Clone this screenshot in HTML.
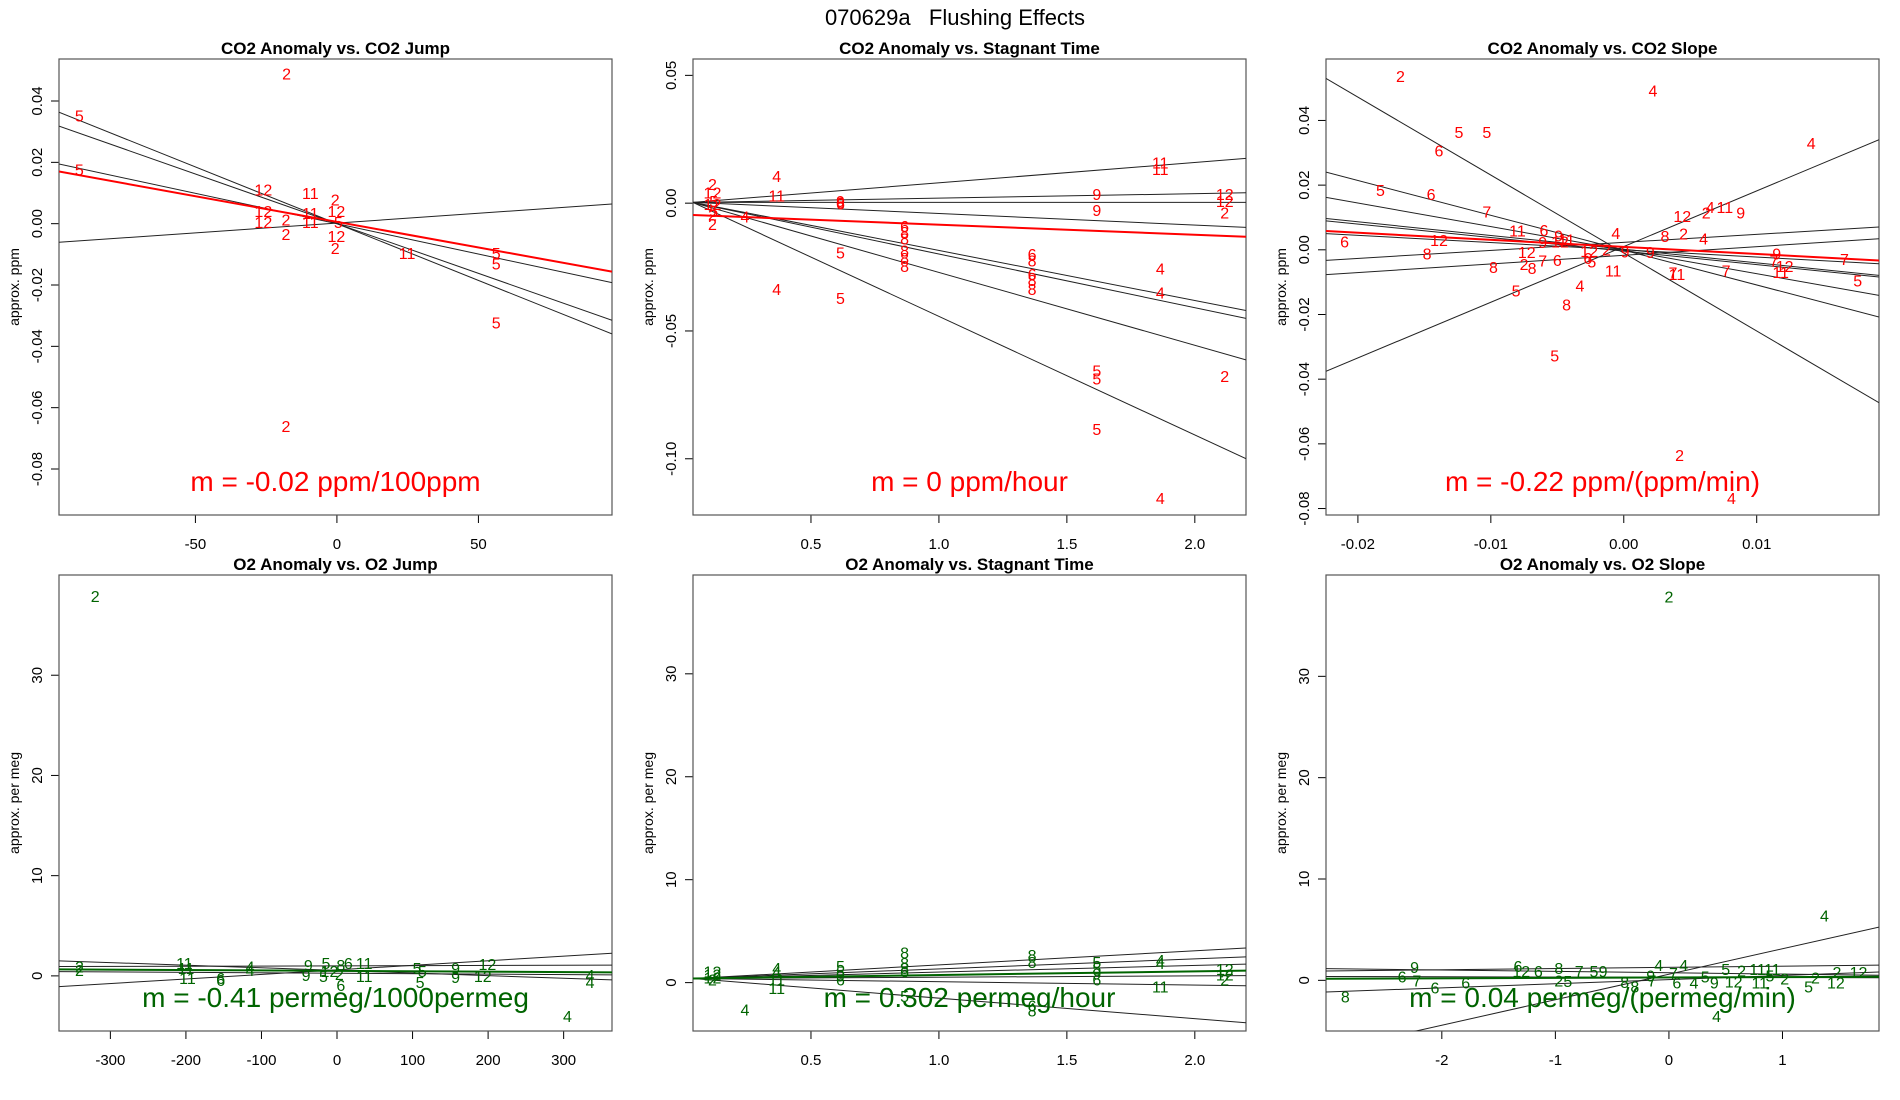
<!DOCTYPE html>
<html><head><meta charset="utf-8"><title>070629a Flushing Effects</title>
<style>
html,body{margin:0;padding:0;background:#fff;}
svg{display:block;font-family:"Liberation Sans",sans-serif;}
</style></head>
<body>
<svg id="chart" width="1900" height="1100" viewBox="0 0 1900 1100" xmlns="http://www.w3.org/2000/svg">
<rect x="0" y="0" width="1900" height="1100" fill="#fff"/>
<text x="955" y="25" font-size="22" text-anchor="middle" fill="#000">070629a&#160;&#160;&#160;Flushing Effects</text>
</svg>
<script>
// ---------- Panel 1: CO2 Anomaly vs CO2 Jump ----------
const p1Labels = ["2","5","5","12","11","2","12","12","2","2","11","11","12","5","12","2","11","5","5","5","2"];
const p1X = [-17.8,-91,-91,-26,-9.4,-0.6,-26,-26,-18,-18,-9.4,-9.4,-0.2,0.5,-0.2,-0.6,24.8,56.3,56.3,56.3,-18];
const p1Y = [0.049,0.0353,0.0177,0.0111,0.010,0.0079,0.0041,0.0006,0.0014,-0.0033,0.0035,0.0006,0.0041,0.0006,-0.0041,-0.0079,-0.0095,-0.0095,-0.013,-0.0323,-0.066];
const p1Slopes = [-0.00037,-0.000324,-0.000198,0.0000638];
const p1Intercepts = [0,0,0,0.0002];
const p1Fit = [-0.000167, 0.0006];
const p1XTicks = [-50,0,50];
const p1XTickLabels = ["-50","0","50"];
const p1YTicks = [0.04,0.02,0,-0.02,-0.04,-0.06,-0.08];
const p1YTickLabels = ["0.04","0.02","0.00","-0.02","-0.04","-0.06","-0.08"];

// ---------- Panel 2: CO2 Anomaly vs Stagnant Time ----------
const p2Labels = ["2","12","5","12","5","2","2","4","11","4","4","9","6","6","5","5","6","8","8","8","8","8","6","8","6","8","8","9","9","5","5","5","11","11","4","4","4","12","12","2","2"];
const p2X = [0.115,0.115,0.12,0.115,0.12,0.115,0.115,0.366,0.366,0.242,0.366,0.615,0.615,0.615,0.615,0.615,0.866,0.866,0.866,0.866,0.866,0.866,1.364,1.364,1.364,1.364,1.364,1.617,1.617,1.617,1.617,1.617,1.865,1.865,1.865,1.865,1.865,2.117,2.117,2.117,2.117];
const p2Y = [0.0074,0.0042,0.0009,-0.0003,-0.003,-0.0044,-0.0082,0.0107,0.0029,-0.0053,-0.0336,0.0009,0.0003,-0.0002,-0.0193,-0.0372,-0.0089,-0.0113,-0.0139,-0.0185,-0.0215,-0.0245,-0.0199,-0.0225,-0.0277,-0.0300,-0.0336,0.0035,-0.0026,-0.0655,-0.0685,-0.0883,0.0159,0.0133,-0.0255,-0.0349,-0.1154,0.0035,0.0009,-0.0036,-0.0677];
const p2Slopes = [0.00796,0.00176,0,-0.00453,-0.0196,-0.021,-0.0285,-0.0464];
const p2Intercepts = [0,0.0002,0.0003,0.0005,0.0011,0.0011,0.0014,0.0021];
const p2Fit = [-0.00393, -0.0045];
const p2XTicks = [0.5,1.0,1.5,2.0];
const p2XTickLabels = ["0.5","1.0","1.5","2.0"];
const p2YTicks = [0.05,0,-0.05,-0.10];
const p2YTickLabels = ["0.05","0.00","-0.05","-0.10"];

// ---------- Panel 3: CO2 Anomaly vs CO2 Slope ----------
const p3Labels = ["2","4","5","5","6","4","5","6","7","6","12","8","8","11","6","9","12","2","8","7","6","9","12","11","12","6","5","2","4","9","11","4","8","5","5","2","4","9","8","2","4","12","2","4","11","9","7","11","7","9","7","12","11","7","5"];
const p3X = [-0.0168,0.0022,-0.0124,-0.0103,-0.0139,0.0141,-0.0183,-0.0145,-0.0103,-0.021,-0.0139,-0.0148,-0.0098,-0.008,-0.006,-0.0061,-0.0073,-0.0075,-0.0069,-0.0061,-0.005,-0.0049,-0.0048,-0.0043,-0.0026,-0.0027,-0.0024,-0.0013,-0.0006,0.0001,-0.0008,-0.0033,-0.0043,-0.0081,-0.0052,0.0042,0.0081,0.002,0.0031,0.0045,0.006,0.0044,0.0062,0.0065,0.0076,0.0088,0.0037,0.004,0.0077,0.0115,0.0113,0.0121,0.0118,0.0166,0.0176];
const p3Y = [0.0538,0.0492,0.0365,0.0364,0.0307,0.033,0.0185,0.0173,0.0118,0.0026,0.0031,-0.0012,-0.0053,0.006,0.0062,0.0024,-0.0007,-0.0044,-0.0056,-0.0033,-0.0031,0.0044,0.0026,0.0032,-0.0003,-0.0026,-0.0036,0.0001,0.0052,-0.0005,-0.0064,-0.011,-0.0169,-0.0126,-0.0327,-0.0635,-0.0767,-0.0007,0.0043,0.0051,0.0035,0.0104,0.0116,0.0132,0.0132,0.0115,-0.007,-0.0075,-0.0064,-0.0012,-0.0033,-0.005,-0.0069,-0.0028,-0.0095];
const p3Slopes = [-2.411,-1.077,-0.728,-0.423,-0.418,-0.224,0.248,0.267,1.721];
const p3Intercepts = [-0.001,-0.0001,-0.0001,0.0002,-0.0004,0,0.0023,-0.0017,0.001];
const p3Fit = [-0.219, 0.0009];
const p3XTicks = [-0.02,-0.01,0,0.01];
const p3XTickLabels = ["-0.02","-0.01","0.00","0.01"];
const p3YTicks = [0.04,0.02,0,-0.02,-0.04,-0.06,-0.08];
const p3YTickLabels = ["0.04","0.02","0.00","-0.02","-0.04","-0.06","-0.08"];

// ---------- Panel 4: O2 Anomaly vs O2 Jump ----------
const p4Labels = ["2","2","11","11","11","6","6","4","4","9","9","5","5","12","2","6","8","6","11","11","5","5","5","9","9","12","12","4","4","4","2"];
const p4X = [-341,-341,-202,-200,-198,-154,-154,-115,-115,-38,-41,-14.6,-18,-10,3,5,5,15,36,36,106,113,110,157,157,199,193,335,335,305,-320];
const p4Y = [0.93,0.6,1.27,0.77,-0.2,-0.2,-0.4,0.93,0.6,1.1,0.1,1.27,0.0,0.5,0.2,-0.9,1.1,1.27,1.27,0,0.77,0.5,-0.6,0.77,-0.1,1.2,0.0,0.1,-0.6,-4.0,37.9];
const p4Slopes = [-0.0026,0.00455,0.00019,-0.00045];
const p4Intercepts = [0.545,0.60,1.0,0.26];
const p4Fit = [-0.00041, 0.5];
const p4XTicks = [-300,-200,-100,0,100,200,300];
const p4XTickLabels = ["-300","-200","-100","0","100","200","300"];
const p4YTicks = [0,10,20,30];
const p4YTickLabels = ["0","10","20","30"];

// ---------- Panel 5: O2 Anomaly vs Stagnant Time ----------
const p5Labels = ["12","12","12","2","4","4","11","11","4","5","5","9","6","8","8","8","6","5","8","8","6","8","5","5","9","6","4","4","11","12","12","2"];
const p5X = [0.115,0.115,0.115,0.115,0.366,0.366,0.366,0.366,0.242,0.615,0.615,0.615,0.615,0.866,0.866,0.866,0.866,0.866,1.364,1.364,1.364,1.364,1.617,1.617,1.617,1.617,1.865,1.865,1.865,2.117,2.117,2.117];
const p5Y = [1.1,0.8,0.5,0.28,1.4,1.1,0.28,-0.5,-2.6,1.6,1.1,0.68,0.28,2.95,1.9,1.4,1.1,-1.3,2.7,2.0,-2.2,-2.7,2.0,1.4,0.9,0.28,2.2,1.9,-0.36,1.3,0.8,0.28];
const p5Slopes = [1.374,0.972,0.648,0.13,-0.324,-1.99];
const p5Intercepts = [0.346,0.362,0.375,0.395,0.413,0.478];
const p5Fit = [0.352, 0.386];
const p5XTicks = [0.5,1.0,1.5,2.0];
const p5XTickLabels = ["0.5","1.0","1.5","2.0"];
const p5YTicks = [0,10,20,30];
const p5YTickLabels = ["0","10","20","30"];

// ---------- Panel 6: O2 Anomaly vs O2 Slope ----------
const p6Labels = ["4","2","8","6","9","7","6","6","6","12","6","8","2","5","7","5","9","8","8","9","4","7","4","7","6","4","5","9","5","2","12","11","11","11","5","2","2","5","2","12","12","4"];
const p6X = [1.37,0,-2.85,-2.35,-2.24,-2.22,-2.06,-1.79,-1.33,-1.30,-1.15,-0.97,-0.97,-0.89,-0.79,-0.66,-0.58,-0.39,-0.30,-0.16,-0.09,-0.15,0.13,0.04,0.07,0.22,0.32,0.4,0.5,0.64,0.57,0.78,0.91,0.8,0.89,1.02,1.29,1.23,1.48,1.47,1.67,0.42];
const p6Y = [6.4,37.9,-1.6,0.4,1.3,0,-0.7,-0.2,1.4,0.9,0.9,1.2,0,-0.05,0.9,0.9,0.9,-0.15,-0.6,0.5,1.5,0,1.5,0.7,-0.2,-0.2,0.4,-0.2,1.1,0.99,-0.1,1.1,1.1,-0.2,0.5,0.2,0.3,-0.6,0.8,-0.2,0.8,-3.5];
const p6Slopes = [-0.1355,0.117,0.405,-0.027,2.516];
const p6Intercepts = [0.75,1.28,0.07,0.30,0.6];
const p6Fit = [0.04, 0.28];
const p6XTicks = [-2,-1,0,1];
const p6XTickLabels = ["-2","-1","0","1"];
const p6YTicks = [0,10,20,30];
const p6YTickLabels = ["0","10","20","30"];

const NS = "http://www.w3.org/2000/svg";
const svg = document.getElementById("chart");

function mk(tag, attrs, parent) {
  const el = document.createElementNS(NS, tag);
  for (const k in attrs) el.setAttribute(k, attrs[k]);
  (parent || svg).appendChild(el);
  return el;
}

function drawPanel(o) {
  const g = mk("g", {});
  
  
  const L = o.box[0], R = o.box[1], T = o.box[2], B = o.box[3];
  const sx = v => L + (v - o.xr[0]) / (o.xr[1] - o.xr[0]) * (R - L);
  const sy = v => B - (v - o.yr[0]) / (o.yr[1] - o.yr[0]) * (B - T);
  const clipId = "clip-" + o.name;
  const cp = mk("clipPath", {id: clipId}, g);
  mk("rect", {x: L, y: T, width: R - L, height: B - T}, cp);

  const t = mk("text", {x: (L + R) / 2, y: T - 5, "font-size": 17, "font-weight": "bold", "text-anchor": "middle", fill: "#000"}, g);
  t.textContent = o.title;
  
  

  o.xTicks.forEach((v, i) => {
    const x = sx(v);
    const tk = mk("line", {x1: x, x2: x, y1: B, y2: B + 8, stroke: "#000", "stroke-width": 1}, g);
    
    
    const lb = mk("text", {x: x, y: B + 34, "font-size": 15, "text-anchor": "middle", fill: "#000"}, g);
    lb.textContent = o.xTickLabels[i];
    
    
  });
  const xa = mk("line", {x1: sx(o.xTicks[0]), x2: sx(o.xTicks[o.xTicks.length - 1]), y1: B, y2: B, stroke: "#000"}, g);
  
  

  o.yTicks.forEach((v, i) => {
    const y = sy(v);
    const tk = mk("line", {x1: L - 8, x2: L, y1: y, y2: y, stroke: "#000", "stroke-width": 1}, g);
    
    
    const lb = mk("text", {x: 0, y: 0, "font-size": 15, "text-anchor": "middle", fill: "#000", transform: "translate(" + (L - 17) + "," + y + ") rotate(-90)"}, g);
    lb.textContent = o.yTickLabels[i];
    
    
  });
  const ya = mk("line", {x1: L, x2: L, y1: sy(o.yTicks[0]), y2: sy(o.yTicks[o.yTicks.length - 1]), stroke: "#000"}, g);
  
  
  const yt = mk("text", {x: 0, y: 0, "font-size": 14, "text-anchor": "middle", fill: "#000", transform: "translate(" + (L - 40) + "," + ((T + B) / 2) + ") rotate(-90)"}, g);
  yt.textContent = o.ylab;
  
  

  const bx = mk("rect", {x: L, y: T, width: R - L, height: B - T, fill: "none", stroke: "#555", "stroke-width": 1.2}, g);
  
  

  const lg = mk("g", {"clip-path": "url(#" + clipId + ")"}, g);
  o.slopes.forEach((m, i) => {
    const b = o.ints[i];
    const ln = mk("line", {x1: sx(o.xr[0]), y1: sy(b + m * o.xr[0]), x2: sx(o.xr[1]), y2: sy(b + m * o.xr[1]), stroke: "#222", "stroke-width": 1}, lg);
    
    
  });
  const fl = mk("line", {x1: sx(o.xr[0]), y1: sy(o.fit[1] + o.fit[0] * o.xr[0]), x2: sx(o.xr[1]), y2: sy(o.fit[1] + o.fit[0] * o.xr[1]), stroke: o.color, "stroke-width": 2}, lg);
  
  

  o.labels.forEach((s, i) => {
    const p = mk("text", {x: sx(o.xs[i]), y: sy(o.ys[i]) + 6, "font-size": 16, "text-anchor": "middle", fill: o.color}, g);
    p.textContent = s;
    
    
  });

  const mt = mk("text", {x: (L + R) / 2, y: T + 432, "font-size": 28, "text-anchor": "middle", fill: o.color}, g);
  mt.textContent = o.mtext;
  
  
}

const RED = "#ff0000", GREEN = "#006400";
drawPanel({name: "co2-vs-jump", title: "CO2 Anomaly vs. CO2 Jump", box: [59, 612, 59, 515], xr: [-98.2, 97.2], yr: [-0.095, 0.0537],
  xTicks: p1XTicks, xTickLabels: p1XTickLabels, yTicks: p1YTicks, yTickLabels: p1YTickLabels, ylab: "approx. ppm",
  labels: p1Labels, xs: p1X, ys: p1Y, slopes: p1Slopes, ints: p1Intercepts, fit: p1Fit, color: RED, mtext: "m = -0.02 ppm/100ppm"});
drawPanel({name: "co2-vs-stagnant", title: "CO2 Anomaly vs. Stagnant Time", box: [693, 1246, 59, 515], xr: [0.039, 2.2], yr: [-0.122, 0.0564],
  xTicks: p2XTicks, xTickLabels: p2XTickLabels, yTicks: p2YTicks, yTickLabels: p2YTickLabels, ylab: "approx. ppm",
  labels: p2Labels, xs: p2X, ys: p2Y, slopes: p2Slopes, ints: p2Intercepts, fit: p2Fit, color: RED, mtext: "m = 0 ppm/hour"});
drawPanel({name: "co2-vs-slope", title: "CO2 Anomaly vs. CO2 Slope", box: [1326, 1879, 59, 515], xr: [-0.0224, 0.0192], yr: [-0.082, 0.059],
  xTicks: p3XTicks, xTickLabels: p3XTickLabels, yTicks: p3YTicks, yTickLabels: p3YTickLabels, ylab: "approx. ppm",
  labels: p3Labels, xs: p3X, ys: p3Y, slopes: p3Slopes, ints: p3Intercepts, fit: p3Fit, color: RED, mtext: "m = -0.22 ppm/(ppm/min)"});
drawPanel({name: "o2-vs-jump", title: "O2 Anomaly vs. O2 Jump", box: [59, 612, 575, 1031], xr: [-368, 364], yr: [-5.5, 40.0],
  xTicks: p4XTicks, xTickLabels: p4XTickLabels, yTicks: p4YTicks, yTickLabels: p4YTickLabels, ylab: "approx. per meg",
  labels: p4Labels, xs: p4X, ys: p4Y, slopes: p4Slopes, ints: p4Intercepts, fit: p4Fit, color: GREEN, mtext: "m = -0.41 permeg/1000permeg"});
drawPanel({name: "o2-vs-stagnant", title: "O2 Anomaly vs. Stagnant Time", box: [693, 1246, 575, 1031], xr: [0.039, 2.2], yr: [-4.7, 39.6],
  xTicks: p5XTicks, xTickLabels: p5XTickLabels, yTicks: p5YTicks, yTickLabels: p5YTickLabels, ylab: "approx. per meg",
  labels: p5Labels, xs: p5X, ys: p5Y, slopes: p5Slopes, ints: p5Intercepts, fit: p5Fit, color: GREEN, mtext: "m = 0.302 permeg/hour"});
drawPanel({name: "o2-vs-slope", title: "O2 Anomaly vs. O2 Slope", box: [1326, 1879, 575, 1031], xr: [-3.02, 1.85], yr: [-5.0, 40.0],
  xTicks: p6XTicks, xTickLabels: p6XTickLabels, yTicks: p6YTicks, yTickLabels: p6YTickLabels, ylab: "approx. per meg",
  labels: p6Labels, xs: p6X, ys: p6Y, slopes: p6Slopes, ints: p6Intercepts, fit: p6Fit, color: GREEN, mtext: "m = 0.04 permeg/(permeg/min)"});
</script>
</body></html>
